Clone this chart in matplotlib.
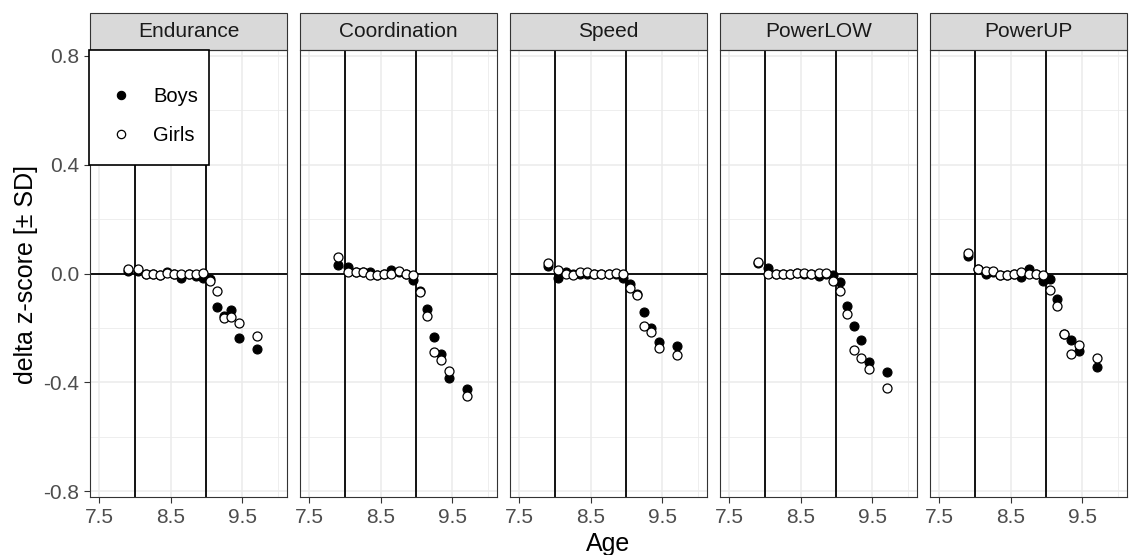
import matplotlib

matplotlib.use('Agg')
import matplotlib.pyplot as plt
from matplotlib.patches import Rectangle
from matplotlib.lines import Line2D

plt.rcParams['font.family'] = ['Liberation Sans', 'DejaVu Sans']

# Data
panels = ['Endurance', 'Coordination', 'Speed', 'PowerLOW', 'PowerUP']
ages = [7.9, 8.05, 8.15, 8.25, 8.35, 8.45, 8.55, 8.65, 8.75, 8.85, 8.95,
        9.05, 9.15, 9.25, 9.35, 9.45, 9.7]

boys_endurance = [0.01, 0.01, 0.0, -0.003, -0.005, 0.007, 0.0, -0.015, 0.0, -0.008, -0.015,
                  -0.02, -0.124, -0.155, -0.136, -0.237, -0.278]
girls_endurance = [0.015, 0.015, 0.0, -0.003, -0.005, 0.003, -0.003, 0.0, -0.003, 0.0, 0.003,
                   -0.028, -0.065, -0.163, -0.16, -0.182, -0.23]

boys_coordination = [0.032, 0.023, 0.004, 0.004, 0.004, -0.005, 0.0, 0.012, 0.005, 0.0, -0.023,
                     -0.065, -0.132, -0.234, -0.295, -0.384, -0.423]
girls_coordination = [0.06, 0.007, 0.004, 0.004, -0.007, -0.007, 0.0, 0.0, 0.008, 0.0, -0.007,
                      -0.068, -0.155, -0.289, -0.319, -0.36, -0.45]

boys_speed = [0.026, -0.016, 0.006, 0.0, 0.0, 0.0, 0.0, 0.0, 0.0, 0.0, -0.015,
              -0.038, -0.075, -0.143, -0.2, -0.252, -0.268]
girls_speed = [0.038, 0.012, 0.0, -0.005, 0.007, 0.005, 0.0, 0.0, 0.0, 0.002, 0.0,
               -0.053, -0.078, -0.192, -0.215, -0.274, -0.298]

boys_powerlow = [0.04, 0.02, 0.0, 0.0, 0.0, 0.003, 0.0, 0.0, -0.01, 0.0, -0.005,
                 -0.032, -0.12, -0.194, -0.246, -0.325, -0.364]
girls_powerlow = [0.041, -0.002, 0.0, 0.0, -0.001, 0.003, 0.003, 0.0, 0.001, 0.001, -0.028,
                  -0.066, -0.148, -0.28, -0.31, -0.352, -0.42]

boys_powerup = [0.066, 0.015, -0.003, 0.005, -0.005, -0.006, -0.002, -0.012, 0.018, 0.0, -0.029,
                -0.022, -0.093, -0.222, -0.243, -0.285, -0.344]
girls_powerup = [0.076, 0.016, 0.009, 0.009, -0.006, -0.006, -0.002, 0.007, 0.0, -0.002, -0.006,
                 -0.06, -0.12, -0.224, -0.295, -0.264, -0.31]

boys = [boys_endurance, boys_coordination, boys_speed, boys_powerlow, boys_powerup]
girls = [girls_endurance, girls_coordination, girls_speed, girls_powerlow, girls_powerup]

x_major = [7.5, 8.5, 9.5]
x_minor = [8.0, 9.0, 10.0]
y_major = [-0.8, -0.4, 0.0, 0.4, 0.8]
y_minor = [-0.6, -0.2, 0.2, 0.6]
y_labels = ['-0.8', '-0.4', '0.0', '0.4', '0.8']

W, H = 1130, 555
fig = plt.figure(figsize=(W / 100, H / 100), dpi=100)

panel_top, panel_bottom, panel_w = 50, 497, 197
strip_h = 37
ph = panel_bottom - panel_top

for i, name in enumerate(panels):
    left = 90 + i * 210
    ax = fig.add_axes([left / W, 1 - panel_bottom / H, panel_w / W, ph / H])
    ax.set_xlim(7.375, 10.125)
    ax.set_ylim(-0.822, 0.822)
    ax.set_xticks(x_major)
    ax.set_xticklabels([str(v) for v in x_major])
    ax.set_xticks(x_minor, minor=True)
    ax.set_yticks(y_major)
    ax.set_yticks(y_minor, minor=True)
    ax.set_yticklabels(y_labels if i == 0 else [])
    ax.grid(which='major', color='#EBEBEB', lw=1.1)
    ax.grid(which='minor', color='#EBEBEB', lw=0.6)
    ax.set_axisbelow(True)
    ax.tick_params(which='minor', length=0)
    ax.tick_params(which='major', length=4, width=0.8, color='#333333',
                   labelcolor='#4D4D4D', labelsize=15)
    ax.tick_params(axis='x', pad=4)
    ax.tick_params(axis='y', pad=3.5)
    if i > 0:
        ax.tick_params(axis='y', which='major', length=0)
    for sp in ax.spines.values():
        sp.set_color('#333333')
        sp.set_linewidth(0.8)

    ax.axvline(8, color='black', lw=1.3, zorder=2)
    ax.axvline(9, color='black', lw=1.3, zorder=2)
    ax.axhline(0, color='black', lw=1.3, zorder=2)

    ax.scatter(ages, boys[i], s=42, c='black', edgecolors='black', linewidths=0.8, zorder=3)
    ax.scatter(ages, girls[i], s=42, facecolors='white', edgecolors='black', linewidths=0.9, zorder=4)

    # facet strip
    ax.add_patch(Rectangle((0, 1), 1, strip_h / ph, transform=ax.transAxes,
                           clip_on=False, fc='#D9D9D9', ec='#333333', lw=0.8))
    ax.text(0.5, 1 + strip_h / 2 / ph, name, transform=ax.transAxes,
            ha='center', va='center', fontsize=15, color='#1A1A1A')

    if i == 0:
        ax.add_patch(Rectangle(((89 - left) / panel_w, (panel_bottom - 165) / ph),
                               (209 - 89) / panel_w, (165 - 50) / ph, transform=ax.transAxes,
                               clip_on=False, fc='white', ec='black', lw=1.2, zorder=5))
        handles = [Line2D([], [], ls='none', marker='o', ms=6, mfc='black', mec='black', mew=0.8),
                   Line2D([], [], ls='none', marker='o', ms=6, mfc='white', mec='black', mew=0.9)]
        leg = ax.legend(handles, ['Boys', 'Girls'], loc='center left',
                        bbox_to_anchor=((111 - left) / panel_w, (panel_bottom - 116) / ph),
                        borderaxespad=0, borderpad=0, frameon=False, fontsize=14.5,
                        handlelength=1.0, handletextpad=1.1, labelspacing=1.0)
        leg.set_zorder(6)

fig.text(608 / W, 1 - 544 / H, 'Age', ha='center', va='center', fontsize=18)
fig.text(26 / W, 1 - 274 / H, 'delta z-score [± SD]', ha='center', va='center',
         rotation=90, fontsize=18)

fig.savefig('out.png', dpi=100)
